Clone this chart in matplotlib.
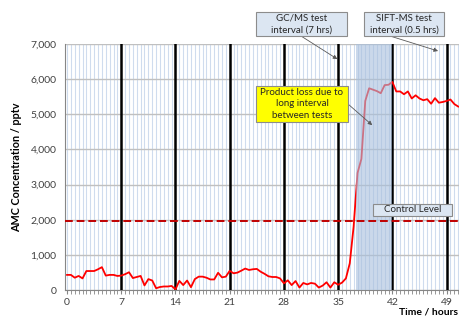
import matplotlib
matplotlib.use("Agg")
import matplotlib.pyplot as plt
from matplotlib.patches import Rectangle
from matplotlib.ticker import MultipleLocator, FuncFormatter

plt.rcParams['font.family'] = ['Lato', 'DejaVu Sans']

# AMC concentration (pptv), one reading every 0.5 h starting at 0 h
amc_values = [
    430, 430, 350, 400, 330, 540, 540, 540, 590, 650,
    410, 430, 430, 400, 410, 450, 505, 340, 370, 400,
    130, 310, 270, 50, 85, 100, 100, 115, 20, 260,
    140, 270, 80, 310, 380, 380, 350, 300, 300, 490,
    360, 380, 545, 475, 495, 550, 610, 570, 590, 600,
    520, 460, 390, 370, 370, 330, 190, 275, 140, 255,
    70, 200, 160, 200, 180, 70, 125, 220, 70, 220,
    150, 210, 330, 760, 1810, 3330, 3730, 5380, 5740, 5700,
    5660, 5600, 5830, 5840, 5920, 5650, 5650, 5570, 5650, 5450,
    5540, 5450, 5400, 5430, 5300, 5460, 5330, 5350, 5380, 5420,
    5290, 5220,
]
sample_step = 0.5
hours = [i * sample_step for i in range(len(amc_values))]

gcms_tests = [7, 14, 21, 28, 35, 42, 49]
x_ticks = [0, 7, 14, 21, 28, 35, 42, 49]
control_level = 1970
loss_window = (37.25, 42)

W, H = 459, 318
fig = plt.figure(figsize=(W / 100, H / 100), dpi=100)
ax = fig.add_axes([64.7 / W, 28 / H, (W - 64.7) / W, 246 / H])

ax.set_xlim(-0.3, 50.6)
ax.set_ylim(0, 7000)

# grid
ax.xaxis.set_minor_locator(MultipleLocator(sample_step))
ax.grid(which='minor', axis='x', color='#cfdcee', lw=0.8, zorder=0)
ax.grid(which='major', axis='x', color='#cfdcee', lw=0.8, zorder=0)
ax.yaxis.set_major_locator(MultipleLocator(1000))
ax.grid(which='major', axis='y', color='#c0c0c0', lw=1.0, zorder=0.5)
ax.set_axisbelow(True)

# GC/MS test lines
for t in gcms_tests:
    ax.axvline(t, color='black', lw=1.8, zorder=3)

# data line
ax.plot(hours, amc_values, color='#ff0000', lw=1.3, zorder=4)

# control level
ax.axhline(control_level, color='#c00000', lw=1.4, ls=(0, (4, 2)), zorder=5)

# shaded product-loss window
ax.axvspan(loss_window[0], loss_window[1], color='#a7bfdd', alpha=0.6, lw=0, zorder=4.5)

ax.set_xticks(x_ticks)
ax.tick_params(axis='x', which='both', length=3, color='#868686', labelsize=7.5,
               labelcolor='#404040', pad=3)
ax.tick_params(axis='y', length=0, labelsize=7.5, labelcolor='#404040', pad=6)
ax.yaxis.set_major_formatter(FuncFormatter(lambda v, p: f"{int(v):,}"))

for s in ['top', 'right']:
    ax.spines[s].set_visible(False)
for s in ['left', 'bottom']:
    ax.spines[s].set_color('#868686')
    ax.spines[s].set_linewidth(0.8)

ax.set_ylabel('AMC Concentration / pptv', fontsize=7.8, fontweight='bold', color='black', labelpad=6)
fig.text(458 / W, 1 - 312 / H, 'Time / hours', ha='right', va='center',
         fontsize=7.5, fontweight='bold')


def fbox(x0, y0, x1, y1, text, fc, lsp=1.35):
    """Box given in pixel coords (top-left origin)."""
    fig.patches.append(Rectangle((x0 / W, 1 - y1 / H), (x1 - x0) / W, (y1 - y0) / H,
                                 transform=fig.transFigure, fc=fc, ec='#8c8c8c',
                                 lw=0.8, zorder=10))
    fig.text((x0 + x1) / 2 / W, 1 - (y0 + y1) / 2 / H, text, ha='center', va='center',
             fontsize=7, color='#262626', linespacing=lsp, zorder=11)


def arrow(px, py, hx, vy):
    ax.annotate('', xy=(hx, vy), xycoords='data',
                xytext=(px / W, 1 - py / H), textcoords='figure fraction',
                arrowprops=dict(arrowstyle='-|>', color='#595959', lw=0.6,
                                mutation_scale=6, shrinkA=0, shrinkB=0),
                annotation_clip=False, zorder=9)


fbox(256, 12, 347, 36, 'GC/MS test\ninterval (7 hrs)', '#dce6f2')
arrow(301, 36, 34.9, 6570)
fbox(364, 12, 444, 36, 'SIFT-MS test\ninterval (0.5 hrs)', '#dce6f2')
arrow(390, 36, 47.9, 6800)
fbox(256, 86, 348, 122, 'Product loss due to\nlong interval\nbetween tests', '#ffff00', lsp=1.3)
arrow(348, 104, 39.4, 4690)
fbox(373, 204, 452, 216, 'Control Level', '#dce6f2')

fig.savefig('out.png', dpi=100)
